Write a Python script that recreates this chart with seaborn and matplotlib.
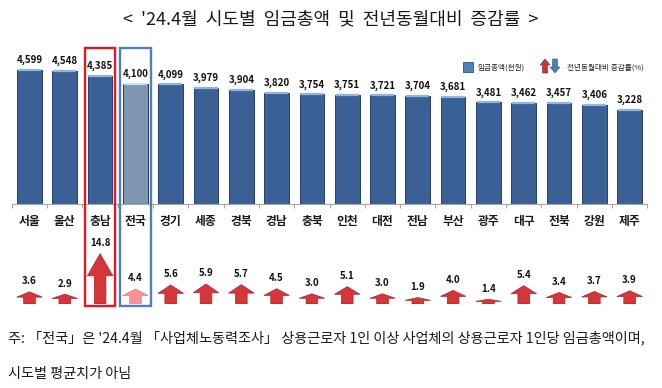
import matplotlib
matplotlib.use('Agg')
import matplotlib.pyplot as plt
import matplotlib.transforms as mtransforms
from matplotlib.patches import Rectangle, FancyArrow
import seaborn as sns
import pandas as pd

regions = ['서울', '울산', '충남', '전국', '경기', '세종', '경북', '경남', '충북',
           '인천', '대전', '전남', '부산', '광주', '대구', '전북', '강원', '제주']
wages = [4599, 4548, 4385, 4100, 4099, 3979, 3904, 3820, 3754,
         3751, 3721, 3704, 3681, 3481, 3462, 3457, 3406, 3228]
growth = [3.6, 2.9, 14.8, 4.4, 5.6, 5.9, 5.7, 4.5, 3.0,
          5.1, 3.0, 1.9, 4.0, 1.4, 5.4, 3.4, 3.7, 3.9]
title = "<  '24.4월  시도별  임금총액  및  전년동월대비  증감률  >"
legend_bar = '임금총액(천원)'
legend_arrow = '전년동월대비 증감률(%)'
note1 = "주: 「전국」은 '24.4월 「사업체노동력조사」 상용근로자 1인 이상 사업체의 상용근로자 1인당 임금총액이며,"
note2 = "시도별 평균치가 아님"
highlight_red = '충남'
highlight_blue = '전국'

sns.set_theme(style='white')
plt.rcParams['font.family'] = ['Noto Sans CJK KR', 'DejaVu Sans']

W, H = 662, 388
fig = plt.figure(figsize=(W / 100, H / 100), dpi=100)
fig.patch.set_facecolor('white')


def fx(px):
    return px / W


def fy(py):
    return 1 - py / H


left_px, right_px = 11.85, 647.3
base_px, top_px = 204, 43.5
ax = fig.add_axes([fx(left_px), fy(base_px), fx(right_px - left_px), (base_px - top_px) / H])
ax.patch.set_visible(False)

df = pd.DataFrame({'region': regions, 'wage': wages, 'growth': growth})
bar_main = '#3A6095'
bar_nat = '#7E95B1'
colors = [bar_nat if r == highlight_blue else bar_main for r in regions]
sns.barplot(data=df, x='region', y='wage', hue='region', palette=colors, legend=False,
            width=0.7, edgecolor='#24406A', linewidth=0.7, saturation=1, ax=ax)
xs = list(range(len(regions)))
ax.hlines(wages, [x - 0.33 for x in xs], [x + 0.33 for x in xs],
          colors=['#C9DDF2' if r == highlight_blue else '#8EB6E0' for r in regions], lw=1.6)
for x, v in zip(xs, wages):
    ax.annotate(f'{v:,}', (x, v), xytext=(0, 3.5), textcoords='offset points',
                ha='center', va='bottom', fontsize=7, fontweight='bold', color='#111111')
ax.set_xlim(-0.5, len(regions) - 0.5)
ax.set_ylim(0, 5500)
ax.set_xlabel('')
ax.set_ylabel('')
ax.set_yticks([])
for s in ['top', 'left', 'right']:
    ax.spines[s].set_visible(False)
ax.spines['bottom'].set_color('#A6A6A6')
ax.spines['bottom'].set_linewidth(0.8)
ax.set_xticks(xs)
ax.set_xticklabels(regions, fontsize=8.5, fontweight='bold', color='#1a1a1a')
ax.set_xticks([x - 0.5 for x in range(len(regions) + 1)], minor=True)
ax.tick_params(axis='x', which='major', length=0, pad=8)
ax.tick_params(axis='x', which='minor', length=3, color='#A6A6A6', width=0.8, bottom=True)

# lower arrow panel
arr_base = 304
ax2 = fig.add_axes([fx(left_px), fy(arr_base), fx(right_px - left_px), 68 / H])
ax2.set_xlim(-0.5, len(regions) - 0.5)
ax2.set_ylim(0, 20)
ax2.axis('off')
for x, g, r in zip(xs, growth, regions):
    fc = '#F49494' if r == highlight_blue else '#D4363A'
    ec = '#F07C7C' if r == highlight_blue else '#A8242A'
    ax2.arrow(x, 0, 0, g, width=0.33, head_width=0.72, head_length=g * 0.44,
              length_includes_head=True, fc=fc, ec=ec, lw=0.5)
    ax2.annotate(f'{g:.1f}', (x, g), xytext=(0, 4), textcoords='offset points',
                 ha='center', va='bottom', fontsize=7, fontweight='bold', color='#111111')

# highlight boxes
blend = mtransforms.blended_transform_factory(ax.transData, fig.transFigure)
for name, col in [(highlight_red, '#E8161E'), (highlight_blue, '#4F7FC0')]:
    i = regions.index(name)
    rect = Rectangle((i - 0.43, fy(306)), 0.86, (306 - 48) / H, transform=blend,
                     fill=False, ec=col, lw=1.7, clip_on=False, zorder=10)
    fig.add_artist(rect)

# overlay in pixel coordinates for legend
ov = fig.add_axes([0, 0, 1, 1])
ov.set_xlim(0, W)
ov.set_ylim(H, 0)
ov.axis('off')
ov.patch.set_visible(False)
ov.add_patch(Rectangle((463, 62), 10, 10, fc='#4F81BD', ec='#2F5080', lw=0.6))
ov.text(477, 67.5, legend_bar, fontsize=5.5, va='center', ha='left', color='#222222')
ov.add_patch(FancyArrow(545, 73, 0, -14, width=5, head_width=10, head_length=6,
                        length_includes_head=True, fc='#C0393B', ec='#8A2022', lw=0.4))
ov.add_patch(FancyArrow(555, 59, 0, 14, width=5, head_width=10, head_length=6,
                        length_includes_head=True, fc='#4A7EC0', ec='#2F5A90', lw=0.4))
ov.text(567, 67.5, legend_arrow, fontsize=5.5, va='center', ha='left', color='#222222')

fig.text(0.5, fy(19), title, ha='center', va='center', fontsize=13, color='#1a1a1a')
fig.text(fx(8), fy(338), note1, ha='left', va='center', fontsize=10.2, color='#1a1a1a')
fig.text(fx(8), fy(374), note2, ha='left', va='center', fontsize=10.2, color='#1a1a1a')

fig.savefig('out.png', dpi=100, facecolor='white')
